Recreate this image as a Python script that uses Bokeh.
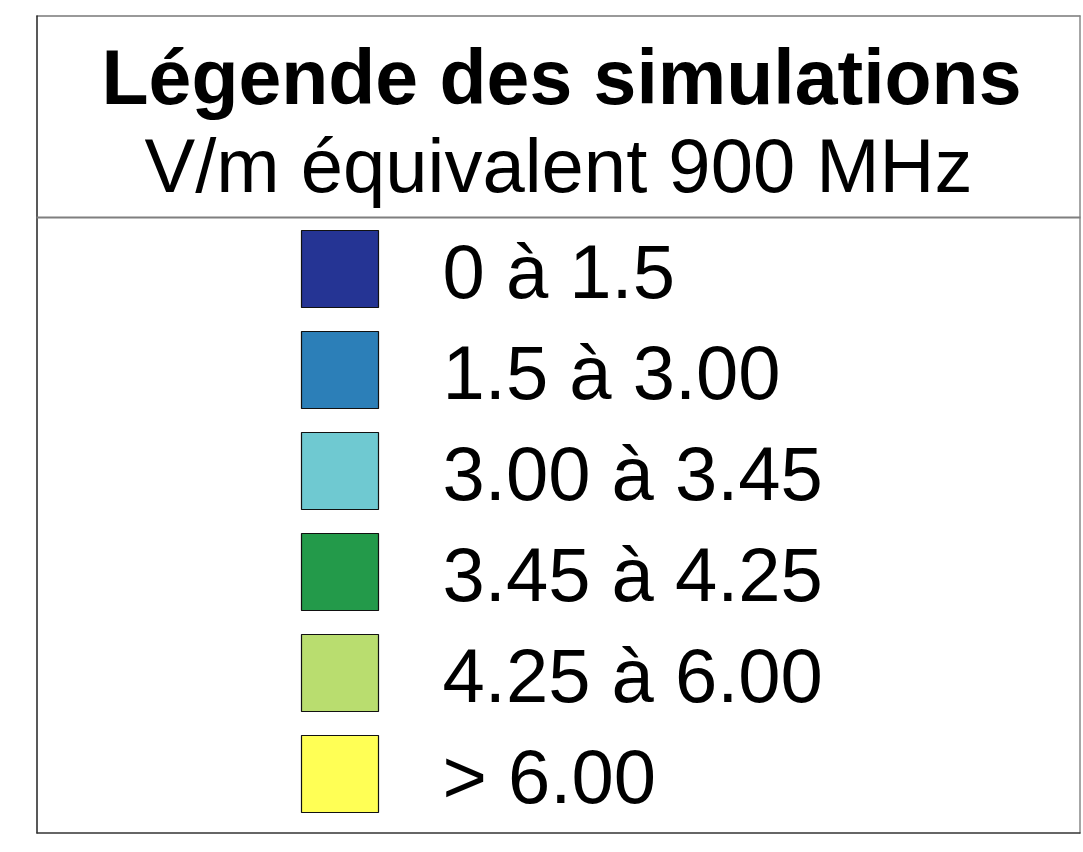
from bokeh.plotting import figure
from bokeh.models import Range1d, ColumnDataSource
from bokeh.core.properties import value
from bokeh.embed import file_html
from bokeh.resources import INLINE

# --- data ---
title = "Légende des simulations"
subtitle = "V/m équivalent 900 MHz"
labels = ["0 à 1.5", "1.5 à 3.00", "3.00 à 3.45", "3.45 à 4.25", "4.25 à 6.00", "> 6.00"]
colors = ["#253494", "#2c7fb8", "#6fc9d1", "#239a4a", "#b9dd6f", "#ffff55"]

W, H = 1082, 840
p = figure(width=W, height=H, output_backend="svg", toolbar_location=None,
           x_range=Range1d(1, 1 + W), y_range=Range1d(1 + H, 1),
           min_border=0, outline_line_color=None, background_fill_color="white")
p.xaxis.visible = False
p.yaxis.visible = False
p.xgrid.visible = False
p.ygrid.visible = False

TY = -29  # baseline correction for text

# frame
p.segment(x0=[37], y0=[16.5], x1=[1081], y1=[16.5], line_color="#777777", line_width=1.5)
p.segment(x0=[37.5], y0=[16], x1=[37.5], y1=[834], line_color="#222222", line_width=1.5)
p.segment(x0=[1080.5], y0=[16], x1=[1080.5], y1=[834], line_color="#888888", line_width=1.5)
p.segment(x0=[37], y0=[833.5], x1=[1081], y1=[833.5], line_color="#333333", line_width=1.5)
p.segment(x0=[37], y0=[218], x1=[1081], y1=[218], line_color="#7f7f7f", line_width=2)

# header
p.text(x=[562], y=[106 + TY], text=[title], text_font=value("Liberation Sans"),
       text_font_style="bold", text_font_size="77px", text_align="center",
       text_baseline="alphabetic", text_color="black")
p.text(x=[559], y=[195 + TY], text=[subtitle], text_font=value("Liberation Sans"),
       text_font_size="76px", text_align="center",
       text_baseline="alphabetic", text_color="black")

# items
n = len(labels)
step = 101
ys = [269.5 + i * step for i in range(n)]
src = ColumnDataSource(dict(
    x=[340.5] * n, y=ys, color=colors, label=labels,
    tx=[443] * n, ty=[y + 31 + TY for y in ys]))
p.rect(x="x", y="y", width=77, height=77, fill_color="color",
       line_color="#111111", line_width=1.2, source=src)
p.text(x="tx", y="ty", text="label", source=src, text_font=value("Liberation Sans"),
       text_font_size="76px", text_align="left", text_baseline="alphabetic",
       text_color="black")

open("out.html", "w").write(file_html(p, INLINE))
